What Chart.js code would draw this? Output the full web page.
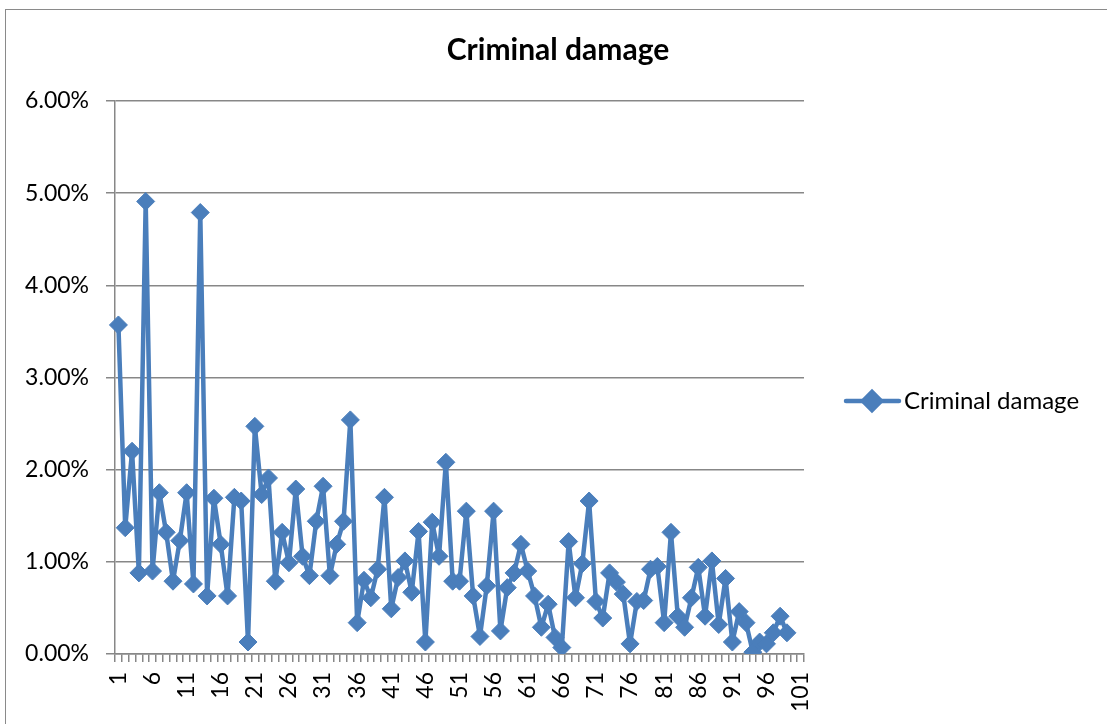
<!DOCTYPE html>
<html>
<head>
<meta charset="utf-8">
<script src="https://cdn.jsdelivr.net/npm/chart.js@4.4.1/dist/chart.umd.min.js"></script>
<style>
  html, body { margin: 0; padding: 0; background: #fff; }
  #wrap { position: relative; width: 1107px; height: 724px; overflow: hidden; }
  #frame { position: absolute; left: 5px; top: 9px; width: 1200px; height: 800px; border: 1.5px solid #8a8a8a; box-sizing: border-box; }
  #myChart { position: absolute; left: 0; top: 0; }
</style>
</head>
<body>
<div id="wrap">
  <div id="frame"></div>
  <canvas id="myChart" width="1107" height="724"></canvas>
</div>
<script>
const seriesName = 'Criminal damage';

// x categories 1..101 (only 99 have values)
const categories = Array.from({ length: 101 }, (_, i) => String(i + 1));

// values in percent
const damage = [
  3.57, 1.37, 2.20, 0.88, 4.91, 0.90, 1.75, 1.32, 0.79, 1.23,
  1.75, 0.76, 4.79, 0.63, 1.69, 1.19, 0.63, 1.70, 1.66, 0.13,
  2.47, 1.73, 1.91, 0.79, 1.32, 0.99, 1.79, 1.06, 0.85, 1.44,
  1.82, 0.85, 1.19, 1.44, 2.54, 0.34, 0.80, 0.61, 0.92, 1.70,
  0.49, 0.83, 1.01, 0.67, 1.33, 0.13, 1.43, 1.06, 2.08, 0.79,
  0.79, 1.55, 0.63, 0.19, 0.74, 1.55, 0.25, 0.72, 0.88, 1.19,
  0.90, 0.63, 0.29, 0.54, 0.18, 0.07, 1.22, 0.61, 0.98, 1.66,
  0.57, 0.39, 0.88, 0.78, 0.65, 0.11, 0.57, 0.58, 0.92, 0.95,
  0.34, 1.32, 0.41, 0.29, 0.61, 0.94, 0.41, 1.01, 0.32, 0.82,
  0.13, 0.46, 0.34, 0.02, 0.13, 0.11, 0.23, 0.41, 0.23
];

const yMin = 0;
const yMax = 6;
const yStep = 1;

const blue = '#4a7ebb';
const axisGrey = '#878787';

Chart.defaults.font.family = 'Lato';
Chart.defaults.color = '#000';

// title + legend drawn by hand (legend sits in the right padding)
const titleLegend = {
  id: 'titleLegend',
  afterDraw(chart) {
    const ctx = chart.ctx;
    ctx.save();
    ctx.fillStyle = '#000';
    ctx.textBaseline = 'middle';
    ctx.textAlign = 'center';
    ctx.font = 'bold 30px Lato';
    ctx.fillText(seriesName, 558, 50);

    const ly = 401;
    ctx.strokeStyle = blue;
    ctx.lineWidth = 4.5;
    ctx.lineCap = 'round';
    ctx.beginPath();
    ctx.moveTo(846, ly);
    ctx.lineTo(899, ly);
    ctx.stroke();
    ctx.fillStyle = blue;
    Chart.helpers.drawPoint(ctx, { pointStyle: 'rectRot', radius: 9, borderWidth: 1 }, 872, ly);
    ctx.fill();
    ctx.fillStyle = '#000';
    ctx.textAlign = 'left';
    ctx.font = '24px Lato';
    ctx.fillText(seriesName, 904, ly);
    ctx.restore();
  }
};

function draw() {
  const ctx = document.getElementById('myChart').getContext('2d');
  new Chart(ctx, {
    type: 'line',
    data: {
      labels: categories,
      datasets: [{
        label: seriesName,
        data: damage,
        borderColor: blue,
        backgroundColor: blue,
        borderWidth: 4.5,
        borderJoinStyle: 'round',
        borderCapStyle: 'round',
        tension: 0,
        pointStyle: 'rectRot',
        pointRadius: 9,
        pointBorderWidth: 1,
        pointBackgroundColor: blue,
        pointBorderColor: blue
      }]
    },
    options: {
      responsive: false,
      animation: false,
      layout: { padding: { top: 101, right: 303, bottom: 0, left: 0 } },
      plugins: {
        legend: { display: false },
        title: { display: false },
        tooltip: { enabled: false }
      },
      scales: {
        x: {
          type: 'category',
          offset: true,
          grid: { drawOnChartArea: false, drawTicks: true, tickLength: 8, color: axisGrey, lineWidth: 1.5, offset: true },
          border: { display: true, color: axisGrey, width: 1.5 },
          ticks: {
            autoSkip: false,
            minRotation: 90,
            maxRotation: 90,
            padding: 10,
            font: { size: 23 },
            callback: function (val, i) {
              return i % 5 === 0 ? this.getLabelForValue(val) : '';
            }
          },
          afterFit: s => { s.height = 70; }
        },
        y: {
          min: yMin,
          max: yMax,
          ticks: {
            stepSize: yStep,
            padding: 17,
            font: { size: 23 },
            callback: v => v.toFixed(2) + '%'
          },
          grid: { color: axisGrey, lineWidth: 1.5, tickLength: 9, drawTicks: true },
          border: { color: axisGrey, width: 1.5 },
          afterFit: s => { s.width = 115; }
        }
      }
    },
    plugins: [titleLegend]
  });
}

document.fonts.load('23px Lato').then(() => document.fonts.load('bold 30px Lato')).then(draw, draw);
</script>
</body>
</html>
